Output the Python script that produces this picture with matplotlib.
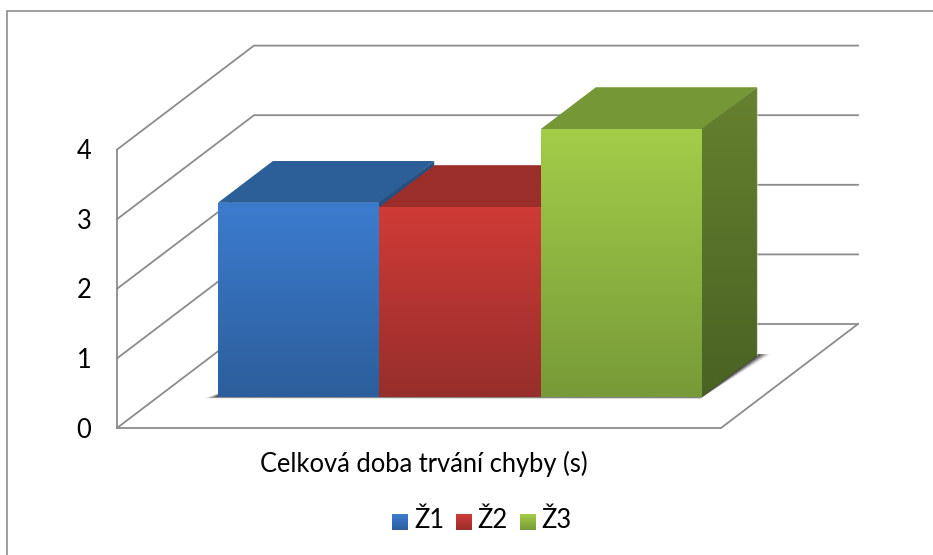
#!/usr/bin/env python3
"""Excel-style 3D column chart of total error duration per series."""

import numpy as np
import matplotlib
matplotlib.use("Agg")
import matplotlib.pyplot as plt
from matplotlib.patches import Polygon

plt.rcParams["font.family"] = ["Lato", "DejaVu Sans"]

CATEGORY = "Celková doba trvání chyby (s)"
SERIES = ["Ž1", "Ž2", "Ž3"]
VALUES = [2.79, 2.73, 3.85]
Y_TICKS = [0, 1, 2, 3, 4]

# colours: front top, front bottom, roof, side top, side bottom
PALETTE = {
    "Ž1": ("#3C7CCF", "#2C5E9B", "#2C5F98", "#25507F", "#25507F"),
    "Ž2": ("#D03B37", "#972E2B", "#9B2D2B", "#7E2624", "#7E2624"),
    "Ž3": ("#A3CD49", "#779A38", "#769736", "#66812F", "#4A6223"),
}
GRID = "#8C8C8C"
FONT_SIZE = 18.4

# ── Projection: (x along floor, value, depth 0..1) to pixels ──────────────────
ORIGIN_X, ORIGIN_Y = 117, 428
UNIT = 69.6
DEPTH_X, DEPTH_Y = 137, 104
FLOOR_W = 604
BAR_X0, BAR_W = 60, 161.5
BAR_D0, BAR_D1 = 0.298, 0.70


def pt(x, v, d):
    return (ORIGIN_X + x + DEPTH_X * d, ORIGIN_Y - UNIT * v - DEPTH_Y * d)


def gradient_poly(ax, corners, top, bottom, zorder):
    """Fill a polygon with a vertical gradient, clipped to its outline."""
    ys = [c[1] for c in corners]
    xs = [c[0] for c in corners]
    ramp = np.linspace(0, 1, 128)[:, None, None]
    c0 = np.array(matplotlib.colors.to_rgb(top))[None, None, :]
    c1 = np.array(matplotlib.colors.to_rgb(bottom))[None, None, :]
    im = ax.imshow(c0 + (c1 - c0) * ramp, extent=(min(xs), max(xs), max(ys), min(ys)),
                   aspect="auto", zorder=zorder, interpolation="bilinear")
    clip = Polygon(corners, closed=True, transform=ax.transData, fc="none", ec="none")
    ax.add_patch(clip)
    im.set_clip_path(clip)


fig = plt.figure(figsize=(9.33, 5.55), dpi=100)
ax = fig.add_axes([0, 0, 1, 1])
ax.axis("off")

# chart area border, only top and left show
ax.plot([6.5, 6.5, 933], [555, 10.5, 10.5], color="#8E8E8E", lw=1.2, zorder=0,
        solid_joinstyle="miter")

# walls and floor
for t in Y_TICKS:
    ax.plot(*zip(pt(0, t, 0), pt(0, t, 1), pt(FLOOR_W, t, 1)), color=GRID, lw=1.3, zorder=1,
            solid_joinstyle="miter")
    ax.text(ORIGIN_X - 33, ORIGIN_Y - UNIT * t + 2, str(t), ha="center", va="center",
            fontsize=FONT_SIZE, color="black")
ax.plot(*zip(pt(0, 0, 0), pt(0, Y_TICKS[-1], 0)), color=GRID, lw=1.3, zorder=1)
ax.plot(*zip(pt(0, 0, 0), pt(FLOOR_W, 0, 0), pt(FLOOR_W, 0, 1)), color=GRID, lw=1.3, zorder=1,
        solid_joinstyle="miter")

# soft floor shadow behind the columns
x_end = BAR_X0 + BAR_W * len(SERIES)
for i, a in enumerate(np.linspace(0.06, 0.3, 6)):
    grow = (5 - i) * 2.0
    ax.add_patch(Polygon([pt(BAR_X0 - 2 - grow, 0, BAR_D0 - 0.003 * (5 - i)),
                          pt(x_end, 0, BAR_D0 - 0.004 * (5 - i)),
                          pt(x_end + 2 + grow, 0, BAR_D1 + 0.01),
                          pt(x_end, 0, BAR_D1 + 0.01),
                          pt(BAR_X0, 0, BAR_D0 + 0.07)],
                         closed=True, fc="black", ec="none", alpha=a, zorder=2))

# columns, left to right so each one overlaps the previous
for i, (name, val) in enumerate(zip(SERIES, VALUES)):
    front_top, front_bot, roof, side_top, side_bot = PALETTE[name]
    x0, x1 = BAR_X0 + BAR_W * i, BAR_X0 + BAR_W * (i + 1)
    z = 3 + i
    roof_pts = [pt(x0, val, BAR_D0), pt(x1, val, BAR_D0), pt(x1, val, BAR_D1), pt(x0, val, BAR_D1)]
    # side starts a pixel under the front face so no seam shows between them
    side_pts = [pt(x1 - 1, val, BAR_D0), pt(x1, val, BAR_D1), pt(x1, 0, BAR_D1), pt(x1 - 1, 0, BAR_D0)]
    front_pts = [pt(x0, val, BAR_D0), pt(x1, val, BAR_D0), pt(x1, 0, BAR_D0), pt(x0, 0, BAR_D0)]
    ax.add_patch(Polygon(roof_pts, closed=True, fc=roof, ec="none", zorder=z))
    gradient_poly(ax, side_pts, side_top, side_bot, z)
    gradient_poly(ax, front_pts, front_top, front_bot, z + 0.5)
    # pale highlight down the back edge of the side face
    ax.plot(*zip(pt(x1, val, BAR_D1), pt(x1, 0, BAR_D1)), color="white", alpha=0.45, lw=0.9,
            zorder=z + 0.6)

# category label
ax.text(423.5, 464, CATEGORY, ha="center", va="center", fontsize=FONT_SIZE, color="black")

# legend
for name, key_x, text_x in zip(SERIES, [392, 456, 520], [414, 477, 541]):
    front_top, front_bot = PALETTE[name][:2]
    gradient_poly(ax, [(key_x, 514), (key_x + 16, 514), (key_x + 16, 530), (key_x, 530)],
                  front_top, front_bot, 5)
    ax.text(text_x, 521, name, ha="left", va="center", fontsize=FONT_SIZE, color="black")

ax.set_xlim(0, 933)
ax.set_ylim(555, 0)
fig.savefig("out.png", dpi=100)
